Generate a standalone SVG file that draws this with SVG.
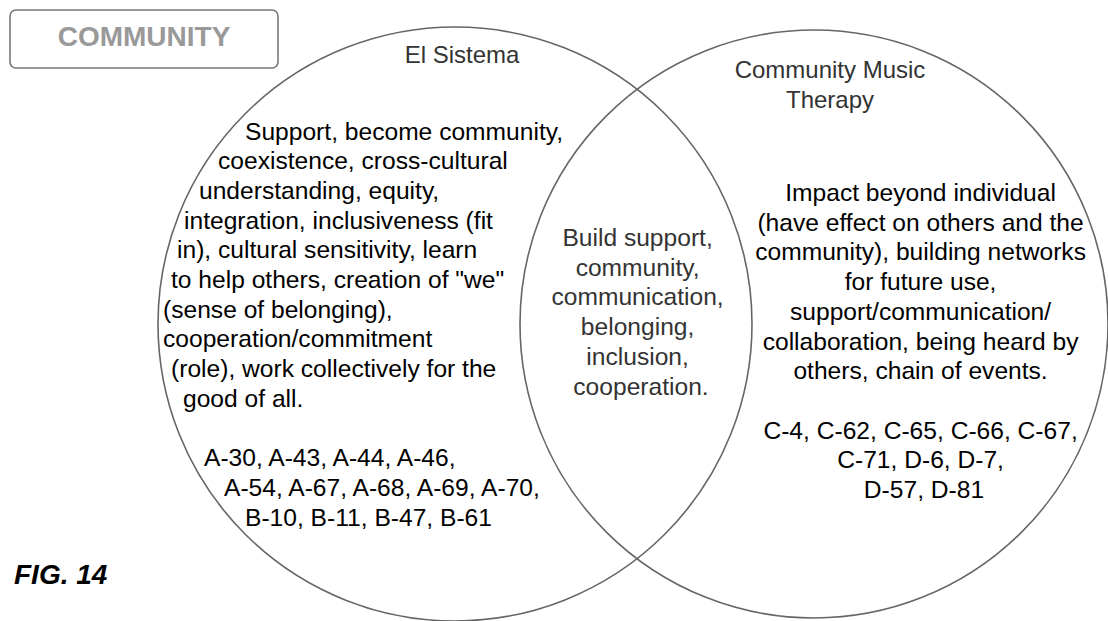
<svg xmlns="http://www.w3.org/2000/svg" width="1108" height="621" viewBox="0 0 1108 621">
<style>
.t{font-family:"Liberation Sans",Arial,sans-serif;font-size:24.6px;fill:#000}
.h{font-family:"Liberation Sans",Arial,sans-serif;font-size:24px;fill:#333}
.m{font-family:"Liberation Sans",Arial,sans-serif;font-size:24.6px;fill:#333}
.c{text-anchor:middle}
.ring{fill:none;stroke:#666;stroke-width:1.6}
</style>
<rect width="1108" height="621" fill="#fff"/>
<g id="title">
<rect x="10" y="10" width="268" height="58" rx="6" fill="#fff" stroke="#777" stroke-width="1.6"/>
<text x="144" y="46" font-family="'Liberation Sans',Arial,sans-serif" font-size="28" font-weight="bold" fill="#999" text-anchor="middle">COMMUNITY</text>
</g>
<g id="el-sistema">
<circle class="ring" cx="455" cy="324" r="297"/>
<text class="h c" x="462" y="63">El Sistema</text>
<text class="t">
<tspan x="245" y="139.5">Support, become community,</tspan>
<tspan x="218" y="169.2">coexistence, cross-cultural</tspan>
<tspan x="199" y="198.9">understanding, equity,</tspan>
<tspan x="184" y="228.6">integration, inclusiveness (fit</tspan>
<tspan x="177" y="258.3">in), cultural sensitivity, learn</tspan>
<tspan x="171" y="288">to help others, creation of "we"</tspan>
<tspan x="163" y="317.7">(sense of belonging),</tspan>
<tspan x="163" y="347.4">cooperation/commitment</tspan>
<tspan x="171" y="377.1">(role), work collectively for the</tspan>
<tspan x="183" y="406.8">good of all.</tspan>
<tspan x="204" y="466.2">A-30, A-43, A-44, A-46,</tspan>
<tspan x="224" y="495.9">A-54, A-67, A-68, A-69, A-70,</tspan>
<tspan x="245" y="525.6">B-10, B-11, B-47, B-61</tspan>
</text>
</g>
<g id="cmt">
<circle class="ring" cx="814" cy="324" r="294"/>
<text class="h c"><tspan x="830" y="78">Community Music</tspan><tspan x="830" y="108">Therapy</tspan></text>
<text class="t c">
<tspan x="924" y="201">Impact beyond individual</tspan>
<tspan x="924" y="230.7">(have effect on others and the</tspan>
<tspan x="924" y="260.4">community), building networks</tspan>
<tspan x="924" y="290.1">for future use,</tspan>
<tspan x="924" y="319.8">support/communication/</tspan>
<tspan x="924" y="349.5">collaboration, being heard by</tspan>
<tspan x="924" y="379.2">others, chain of events.</tspan>
<tspan x="924" y="438.6">C-4, C-62, C-65, C-66, C-67,</tspan>
<tspan x="924" y="468.3">C-71, D-6, D-7,</tspan>
<tspan x="924" y="498">D-57, D-81</tspan>
</text>
</g>
<g id="overlap">
<text class="m c">
<tspan x="641" y="246">Build support,</tspan>
<tspan x="641" y="275.7">community,</tspan>
<tspan x="641" y="305.4">communication,</tspan>
<tspan x="641" y="335.1">belonging,</tspan>
<tspan x="641" y="364.8">inclusion,</tspan>
<tspan x="641" y="394.5">cooperation.</tspan>
</text>
</g>
<g id="connectors"></g>
<text x="14" y="584" font-family="'Liberation Sans',Arial,sans-serif" font-size="28" font-weight="bold" font-style="italic" fill="#000">FIG. 14</text>
</svg>
